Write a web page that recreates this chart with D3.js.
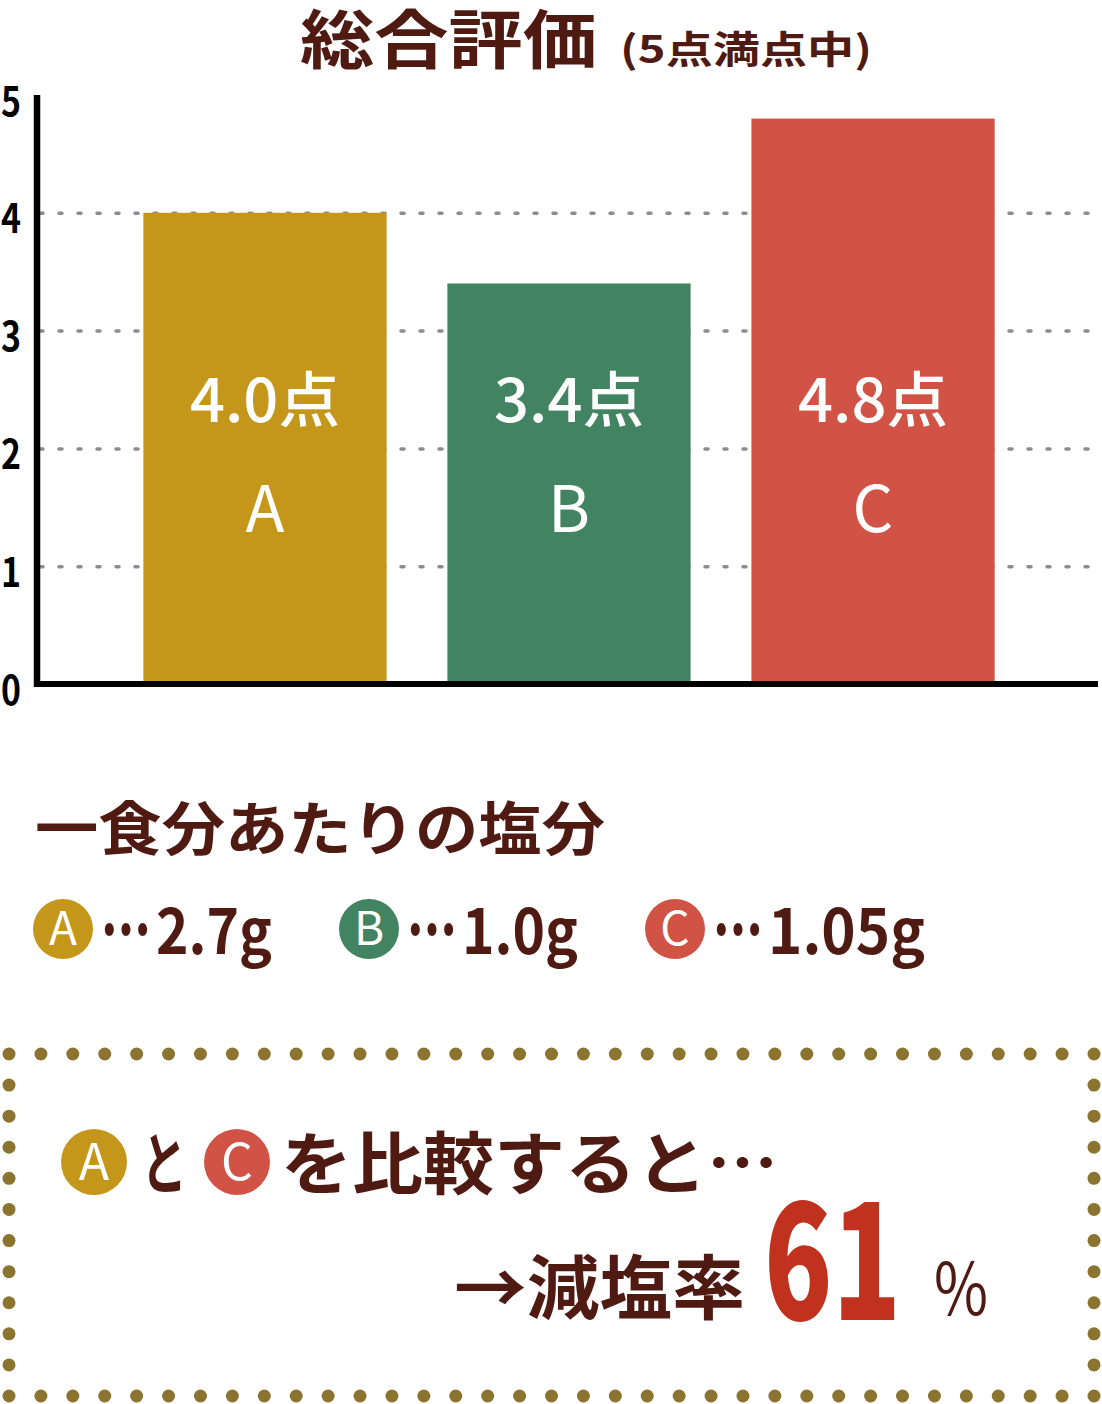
<!DOCTYPE html>
<html lang="ja">
<head>
<meta charset="UTF-8">
<title>総合評価</title>
<script src="https://d3js.org/d3.v7.min.js"></script>
<style>
  body { margin: 0; background: #fff; }
  text { font-family: "Noto Sans CJK JP", "Noto Sans", sans-serif; }
</style>
</head>
<body>
<svg id="chart" width="1102" height="1404"></svg>
<script>
// chart data
const categories = ['A', 'B', 'C'];
const scores = [4.0, 3.4, 4.8];
const barColors = ['#c4971a', '#428462', '#d05346'];
const yTicks = [0, 1, 2, 3, 4, 5];
const gridTicks = [1, 2, 3, 4];
const saltGrams = ['2.7g', '1.0g', '1.05g'];
const reductionRate = 61;

const brown = '#4f1a12';
const svg = d3.select('#chart');

// scales
const x = d3.scaleBand()
  .domain(categories)
  .range([40, 1098])
  .paddingInner(0.2)
  .paddingOuter(0.34);

const y = d3.scaleLinear()
  .domain([0, 5])
  .range([684, 95]);

// title
svg.append('text')
  .attr('x', 300).attr('y', 63)
  .attr('font-size', 64).attr('font-weight', 700)
  .attr('fill', brown)
  .attr('textLength', 297).attr('lengthAdjust', 'spacingAndGlyphs')
  .text('総合評価');
svg.append('text')
  .attr('x', 620).attr('y', 63)
  .attr('font-size', 38).attr('font-weight', 700)
  .attr('fill', brown)
  .attr('textLength', 252).attr('lengthAdjust', 'spacingAndGlyphs')
  .text('(5点満点中)');

// dotted grid lines
const grid = svg.append('g')
  .attr('transform', 'translate(40,0)')
  .call(d3.axisLeft(y).tickValues(gridTicks).tickSize(-1060).tickFormat(''));
grid.select('.domain').remove();
grid.selectAll('line')
  .attr('stroke', '#8c8c8c')
  .attr('stroke-width', 3.5)
  .attr('stroke-linecap', 'round')
  .attr('stroke-dasharray', '3 16');

// bars
svg.append('g')
  .selectAll('rect')
  .data(categories)
  .join('rect')
  .attr('x', d => x(d))
  .attr('y', (d, i) => y(scores[i]))
  .attr('width', x.bandwidth())
  .attr('height', (d, i) => y(0) - y(scores[i]))
  .attr('fill', (d, i) => barColors[i]);

// value labels in bars
svg.append('g')
  .selectAll('text')
  .data(categories)
  .join('text')
  .attr('x', d => x(d) + x.bandwidth() / 2)
  .attr('y', 422)
  .attr('text-anchor', 'middle')
  .attr('font-size', 60).attr('font-weight', 500)
  .attr('fill', '#fff')
  .attr('textLength', 150).attr('lengthAdjust', 'spacingAndGlyphs')
  .text((d, i) => scores[i].toFixed(1) + '点');

svg.append('g')
  .selectAll('text')
  .data(categories)
  .join('text')
  .attr('x', d => x(d) + x.bandwidth() / 2)
  .attr('y', 532)
  .attr('text-anchor', 'middle')
  .attr('font-size', 64).attr('font-weight', 400)
  .attr('fill', '#fff')
  .text(d => d);

// axes
const yAxis = svg.append('g')
  .attr('transform', 'translate(21,0)')
  .call(d3.axisLeft(y).tickValues(yTicks).tickSize(0).tickPadding(0).tickFormat(d3.format('d')));
yAxis.select('.domain').remove();
yAxis.selectAll('text')
  .attr('font-size', 40).attr('font-weight', 700)
  .attr('fill', '#000')
  .attr('dy', '0.5em')
  .attr('textLength', 20).attr('lengthAdjust', 'spacingAndGlyphs');

svg.append('line')
  .attr('x1', 37).attr('x2', 37)
  .attr('y1', y(5)).attr('y2', y(0) + 3)
  .attr('stroke', '#000').attr('stroke-width', 6.5);
svg.append('line')
  .attr('x1', 34).attr('x2', 1098)
  .attr('y1', y(0)).attr('y2', y(0))
  .attr('stroke', '#000').attr('stroke-width', 6);

// salt per serving
svg.append('text')
  .attr('x', 35).attr('y', 850)
  .attr('font-size', 58).attr('font-weight', 700)
  .attr('fill', brown)
  .attr('textLength', 570).attr('lengthAdjust', 'spacingAndGlyphs')
  .text('一食分あたりの塩分');

const legendX = [63, 369, 675];
const legendTextW = [116, 116, 157];
const legend = svg.append('g')
  .selectAll('g')
  .data(categories)
  .join('g')
  .attr('transform', (d, i) => `translate(${legendX[i]},929)`);
legend.append('circle')
  .attr('r', 30)
  .attr('fill', (d, i) => barColors[i]);
legend.append('text')
  .attr('y', 16)
  .attr('text-anchor', 'middle')
  .attr('font-size', 46)
  .attr('fill', '#fff')
  .text(d => d);
legend.append('text')
  .attr('x', 38).attr('y', 27)
  .attr('font-size', 72).attr('font-weight', 900)
  .attr('fill', brown)
  .attr('textLength', 50).attr('lengthAdjust', 'spacingAndGlyphs')
  .text('…');
legend.append('text')
  .attr('x', 93).attr('y', 25)
  .attr('font-size', 62).attr('font-weight', 700)
  .attr('fill', brown)
  .attr('textLength', (d, i) => legendTextW[i]).attr('lengthAdjust', 'spacingAndGlyphs')
  .text((d, i) => saltGrams[i]);

// dotted frame
const dotColor = '#8b742f';
const frame = svg.append('g').attr('fill', dotColor);
const fx0 = 9, fx1 = 1094, fy0 = 1054, fy1 = 1396;
const hCount = 35, vCount = 11;
const hx = d3.range(hCount).map(i => fx0 + i * (fx1 - fx0) / (hCount - 1));
const vy = d3.range(1, vCount).map(i => fy0 + i * (fy1 - fy0) / vCount);
[fy0, fy1].forEach(yy => {
  frame.selectAll(null).data(hx).join('circle')
    .attr('cx', d => d).attr('cy', yy).attr('r', 6.5);
});
[fx0, fx1].forEach(xx => {
  frame.selectAll(null).data(vy).join('circle')
    .attr('cx', xx).attr('cy', d => d).attr('r', 6.5);
});

// comparison text
const cmp = svg.append('g');
[[94, 0], [237, 2]].forEach(([cx, i]) => {
  cmp.append('circle').attr('cx', cx).attr('cy', 1162).attr('r', 33)
    .attr('fill', barColors[i]);
  cmp.append('text').attr('x', cx).attr('y', 1180)
    .attr('text-anchor', 'middle').attr('font-size', 50).attr('fill', '#fff')
    .text(categories[i]);
});
cmp.append('text')
  .attr('x', 141).attr('y', 1189)
  .attr('font-size', 68).attr('font-weight', 700).attr('fill', brown)
  .attr('textLength', 46).attr('lengthAdjust', 'spacingAndGlyphs')
  .text('と');
cmp.append('text')
  .attr('x', 281).attr('y', 1189)
  .attr('font-size', 68).attr('font-weight', 700).attr('fill', brown)
  .attr('textLength', 497).attr('lengthAdjust', 'spacingAndGlyphs')
  .text('を比較すると…');

cmp.append('text')
  .attr('x', 454).attr('y', 1314)
  .attr('font-size', 70).attr('font-weight', 700).attr('fill', brown)
  .attr('textLength', 291).attr('lengthAdjust', 'spacingAndGlyphs')
  .text('→減塩率');
cmp.append('text')
  .attr('x', 764).attr('y', 1320)
  .attr('font-size', 158).attr('font-weight', 900).attr('fill', '#c0321e')
  .attr('textLength', 137).attr('lengthAdjust', 'spacingAndGlyphs')
  .text(reductionRate);
cmp.append('text')
  .attr('x', 934).attr('y', 1315)
  .attr('font-size', 72).attr('font-weight', 400).attr('fill', brown)
  .attr('textLength', 54).attr('lengthAdjust', 'spacingAndGlyphs')
  .text('%');
</script>
</body>
</html>
